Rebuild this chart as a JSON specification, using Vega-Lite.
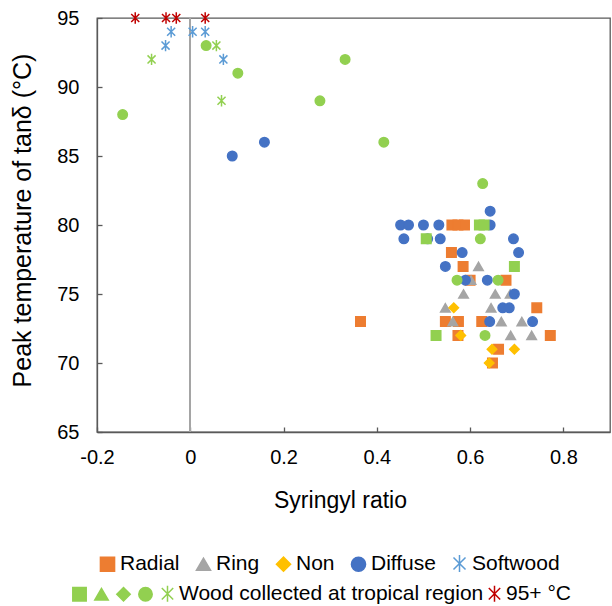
{
  "$schema": "https://vega.github.io/schema/vega-lite/v6.json",
  "width": 513,
  "height": 414,
  "autosize": "none",
  "padding": {"left": 97, "top": 18, "right": 2, "bottom": 174},
  "config": {
    "font": "Liberation Sans",
    "view": {"stroke": "#595959", "strokeWidth": 1.3},
    "axis": {
      "grid": false,
      "domainColor": "#595959",
      "domainWidth": 1.3,
      "tickColor": "#595959",
      "tickWidth": 1.3,
      "labelColor": "#000000",
      "titleColor": "#000000",
      "labelFontSize": 20,
      "titleFontSize": 23,
      "titleFontWeight": "normal",
      "tickSize": -5,
      "labelPadding": 23,
      "labelFlush": false
    },
    "axisX": {"labelPadding": 20},
    "axisY": {"titleFontSize": 25},
    "legend": {
      "labelColor": "#000000",
      "labelFontSize": 21,
      "symbolSize": 200,
      "symbolStrokeWidth": 1.5,
      "labelLimit": 600
    }
  },
  "data": {
    "values": [
      {"set": "A", "group": "Radial", "s": 0.561, "t": 80},
      {"set": "A", "group": "Radial", "s": 0.574, "t": 80},
      {"set": "A", "group": "Radial", "s": 0.588, "t": 80},
      {"set": "A", "group": "Radial", "s": 0.560, "t": 78},
      {"set": "A", "group": "Radial", "s": 0.585, "t": 77},
      {"set": "A", "group": "Radial", "s": 0.600, "t": 76},
      {"set": "A", "group": "Radial", "s": 0.677, "t": 76},
      {"set": "A", "group": "Radial", "s": 0.743, "t": 74},
      {"set": "A", "group": "Radial", "s": 0.365, "t": 73},
      {"set": "A", "group": "Radial", "s": 0.547, "t": 73},
      {"set": "A", "group": "Radial", "s": 0.575, "t": 73},
      {"set": "A", "group": "Radial", "s": 0.625, "t": 73},
      {"set": "A", "group": "Radial", "s": 0.574, "t": 72},
      {"set": "A", "group": "Radial", "s": 0.772, "t": 72},
      {"set": "A", "group": "Radial", "s": 0.661, "t": 71},
      {"set": "A", "group": "Radial", "s": 0.648, "t": 70},
      {"set": "A", "group": "Ring", "s": 0.618, "t": 77},
      {"set": "A", "group": "Ring", "s": 0.602, "t": 76},
      {"set": "A", "group": "Ring", "s": 0.586, "t": 75},
      {"set": "A", "group": "Ring", "s": 0.654, "t": 75},
      {"set": "A", "group": "Ring", "s": 0.686, "t": 75},
      {"set": "A", "group": "Ring", "s": 0.547, "t": 74},
      {"set": "A", "group": "Ring", "s": 0.645, "t": 74},
      {"set": "A", "group": "Ring", "s": 0.563, "t": 73},
      {"set": "A", "group": "Ring", "s": 0.667, "t": 73},
      {"set": "A", "group": "Ring", "s": 0.711, "t": 73},
      {"set": "A", "group": "Ring", "s": 0.687, "t": 72},
      {"set": "A", "group": "Ring", "s": 0.732, "t": 72},
      {"set": "A", "group": "Non", "s": 0.565, "t": 74},
      {"set": "A", "group": "Non", "s": 0.580, "t": 72},
      {"set": "A", "group": "Non", "s": 0.647, "t": 71},
      {"set": "A", "group": "Non", "s": 0.695, "t": 71},
      {"set": "A", "group": "Non", "s": 0.641, "t": 70},
      {"set": "A", "group": "Diffuse", "s": 0.090, "t": 85},
      {"set": "A", "group": "Diffuse", "s": 0.159, "t": 86},
      {"set": "A", "group": "Diffuse", "s": 0.451, "t": 80},
      {"set": "A", "group": "Diffuse", "s": 0.468, "t": 80},
      {"set": "A", "group": "Diffuse", "s": 0.500, "t": 80},
      {"set": "A", "group": "Diffuse", "s": 0.533, "t": 80},
      {"set": "A", "group": "Diffuse", "s": 0.643, "t": 80},
      {"set": "A", "group": "Diffuse", "s": 0.643, "t": 81},
      {"set": "A", "group": "Diffuse", "s": 0.458, "t": 79},
      {"set": "A", "group": "Diffuse", "s": 0.509, "t": 79},
      {"set": "A", "group": "Diffuse", "s": 0.536, "t": 79},
      {"set": "A", "group": "Diffuse", "s": 0.693, "t": 79},
      {"set": "A", "group": "Diffuse", "s": 0.583, "t": 78},
      {"set": "A", "group": "Diffuse", "s": 0.704, "t": 78},
      {"set": "A", "group": "Diffuse", "s": 0.547, "t": 77},
      {"set": "A", "group": "Diffuse", "s": 0.590, "t": 76},
      {"set": "A", "group": "Diffuse", "s": 0.637, "t": 76},
      {"set": "A", "group": "Diffuse", "s": 0.695, "t": 75},
      {"set": "A", "group": "Diffuse", "s": 0.670, "t": 74},
      {"set": "A", "group": "Diffuse", "s": 0.684, "t": 74},
      {"set": "A", "group": "Diffuse", "s": 0.642, "t": 73},
      {"set": "A", "group": "Diffuse", "s": 0.734, "t": 73},
      {"set": "A", "group": "Softwood", "s": -0.041, "t": 94},
      {"set": "A", "group": "Softwood", "s": -0.053, "t": 93},
      {"set": "A", "group": "Softwood", "s": 0.005, "t": 94},
      {"set": "A", "group": "Softwood", "s": 0.032, "t": 94},
      {"set": "A", "group": "Softwood", "s": 0.071, "t": 92},
      {"set": "B", "group": "T-Radial", "s": 0.620, "t": 80},
      {"set": "B", "group": "T-Radial", "s": 0.630, "t": 80},
      {"set": "B", "group": "T-Radial", "s": 0.506, "t": 79},
      {"set": "B", "group": "T-Radial", "s": 0.695, "t": 77},
      {"set": "B", "group": "T-Radial", "s": 0.527, "t": 72},
      {"set": "B", "group": "T-Diffuse", "s": 0.034, "t": 93},
      {"set": "B", "group": "T-Diffuse", "s": 0.102, "t": 91},
      {"set": "B", "group": "T-Diffuse", "s": -0.145, "t": 88},
      {"set": "B", "group": "T-Diffuse", "s": 0.332, "t": 92},
      {"set": "B", "group": "T-Diffuse", "s": 0.278, "t": 89},
      {"set": "B", "group": "T-Diffuse", "s": 0.415, "t": 86},
      {"set": "B", "group": "T-Diffuse", "s": 0.627, "t": 83},
      {"set": "B", "group": "T-Diffuse", "s": 0.622, "t": 79},
      {"set": "B", "group": "T-Diffuse", "s": 0.572, "t": 76},
      {"set": "B", "group": "T-Diffuse", "s": 0.660, "t": 76},
      {"set": "B", "group": "T-Diffuse", "s": 0.632, "t": 72},
      {"set": "B", "group": "T-Softwood", "s": -0.083, "t": 92},
      {"set": "B", "group": "T-Softwood", "s": 0.056, "t": 93},
      {"set": "B", "group": "T-Softwood", "s": 0.067, "t": 89},
      {"set": "B", "group": "95+", "s": -0.118, "t": 95},
      {"set": "B", "group": "95+", "s": -0.052, "t": 95},
      {"set": "B", "group": "95+", "s": -0.030, "t": 95},
      {"set": "B", "group": "95+", "s": 0.032, "t": 95}
    ]
  },
  "layer": [
    {
      "mark": {"type": "rule", "color": "#A6A6A6", "strokeWidth": 1},
      "encoding": {
        "x": {
          "datum": 0, "type": "quantitative",
          "scale": {"domain": [-0.2, 0.9], "nice": false, "zero": false},
          "axis": {"title": "Syringyl ratio", "values": [-0.2, 0, 0.2, 0.4, 0.6, 0.8], "labelExpr": "datum.value == 0 ? '0' : '' + datum.value", "titleX": 243, "titleY": 75, "titleBaseline": "alphabetic"}
        }
      }
    },
    {
      "transform": [{"filter": "datum.set == 'A'"}],
      "mark": {"type": "point", "filled": true, "size": 90, "strokeWidth": 1.5, "opacity": 1},
      "encoding": {
        "x": {
          "field": "s", "type": "quantitative",
          "scale": {"domain": [-0.2, 0.9], "nice": false, "zero": false},
          "axis": {"title": "Syringyl ratio", "values": [-0.2, 0, 0.2, 0.4, 0.6, 0.8], "labelExpr": "datum.value == 0 ? '0' : '' + datum.value", "titleX": 243, "titleY": 75, "titleBaseline": "alphabetic"}
        },
        "y": {
          "field": "t", "type": "quantitative",
          "scale": {"domain": [65, 95], "nice": false, "zero": false},
          "axis": {"title": "Peak temperature of tanδ (°C)", "values": [65, 70, 75, 80, 85, 90, 95], "titleX": -75, "titleY": 202, "titleBaseline": "middle"}
        },
        "color": {
          "field": "group", "type": "nominal",
          "scale": {"domain": ["Radial", "Ring", "Non", "Diffuse", "Softwood"], "range": ["#ED7D31", "#A5A5A5", "#FFC000", "#4472C4", "#5B9BD5"]},
          "legend": {"orient": "none", "legendX": 0, "legendY": 535, "direction": "horizontal", "columns": 5, "title": null, "labelOffset": 2, "columnPadding": 13}
        },
        "stroke": {
          "field": "group", "type": "nominal",
          "scale": {"domain": ["Radial", "Ring", "Non", "Diffuse", "Softwood"], "range": ["#ED7D31", "#A5A5A5", "#FFC000", "#4472C4", "#5B9BD5"]},
          "legend": {"orient": "none", "legendX": 0, "legendY": 535, "direction": "horizontal", "columns": 5, "title": null, "labelOffset": 2, "columnPadding": 13}
        },
        "shape": {
          "field": "group", "type": "nominal",
          "scale": {"domain": ["Radial", "Ring", "Non", "Diffuse", "Softwood"], "range": ["square", "triangle-up", "diamond", "circle", "M-0.85,-0.85L0.85,0.85M-0.85,0.85L0.85,-0.85M0,-1.2L0,1.2"]},
          "legend": {"orient": "none", "legendX": 0, "legendY": 535, "direction": "horizontal", "columns": 5, "title": null, "labelOffset": 2, "columnPadding": 13}
        }
      }
    },
    {
      "transform": [{"filter": "datum.set == 'B'"}],
      "mark": {"type": "point", "filled": true, "size": 90, "strokeWidth": 1.5, "opacity": 1},
      "encoding": {
        "x": {
          "field": "s", "type": "quantitative",
          "scale": {"domain": [-0.2, 0.9], "nice": false, "zero": false},
          "axis": {"title": "Syringyl ratio", "values": [-0.2, 0, 0.2, 0.4, 0.6, 0.8], "labelExpr": "datum.value == 0 ? '0' : '' + datum.value", "titleX": 243, "titleY": 75, "titleBaseline": "alphabetic"}
        },
        "y": {
          "field": "t", "type": "quantitative",
          "scale": {"domain": [65, 95], "nice": false, "zero": false},
          "axis": {"title": "Peak temperature of tanδ (°C)", "values": [65, 70, 75, 80, 85, 90, 95], "titleX": -75, "titleY": 202, "titleBaseline": "middle"}
        },
        "color": {
          "field": "group", "type": "nominal",
          "scale": {"domain": ["T-Radial", "T-Ring", "T-Non", "T-Diffuse", "T-Softwood", "95+"], "range": ["#92D050", "#92D050", "#92D050", "#92D050", "#92D050", "#C00000"]},
          "legend": {"orient": "none", "legendX": -28, "legendY": 565, "direction": "horizontal", "columns": 6, "title": null, "symbolSize": 180, "labelOffset": 1, "columnPadding": 0, "labelExpr": "datum.value == 'T-Softwood' ? 'Wood collected at tropical region   ' : datum.value == '95+' ? '95+ °C' : ''"}
        },
        "stroke": {
          "field": "group", "type": "nominal",
          "scale": {"domain": ["T-Radial", "T-Ring", "T-Non", "T-Diffuse", "T-Softwood", "95+"], "range": ["#92D050", "#92D050", "#92D050", "#92D050", "#92D050", "#C00000"]},
          "legend": {"orient": "none", "legendX": -28, "legendY": 565, "direction": "horizontal", "columns": 6, "title": null, "symbolSize": 180, "labelOffset": 1, "columnPadding": 0, "labelExpr": "datum.value == 'T-Softwood' ? 'Wood collected at tropical region   ' : datum.value == '95+' ? '95+ °C' : ''"}
        },
        "shape": {
          "field": "group", "type": "nominal",
          "scale": {"domain": ["T-Radial", "T-Ring", "T-Non", "T-Diffuse", "T-Softwood", "95+"], "range": ["square", "triangle-up", "diamond", "circle", "M-0.85,-0.85L0.85,0.85M-0.85,0.85L0.85,-0.85M0,-1.2L0,1.2", "M-0.85,-0.85L0.85,0.85M-0.85,0.85L0.85,-0.85M0,-1.2L0,1.2"]},
          "legend": {"orient": "none", "legendX": -28, "legendY": 565, "direction": "horizontal", "columns": 6, "title": null, "symbolSize": 180, "labelOffset": 1, "columnPadding": 0, "labelExpr": "datum.value == 'T-Softwood' ? 'Wood collected at tropical region   ' : datum.value == '95+' ? '95+ °C' : ''"}
        }
      }
    }
  ],
  "resolve": {"scale": {"color": "independent", "stroke": "independent", "shape": "independent"}}
}
